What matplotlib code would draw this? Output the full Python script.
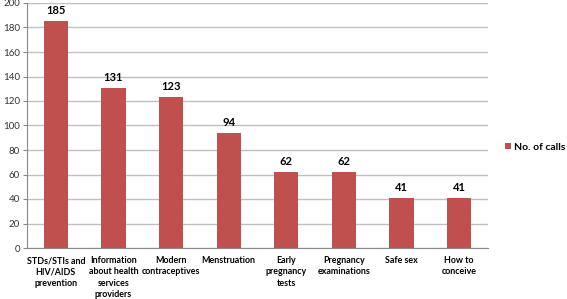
import numpy as np
import matplotlib.pyplot as plt

categories = ["STDs/STIs and\nHIV/AIDS\nprevention",
              "Information\nabout health\nservices\nproviders",
              "Modern\ncontraceptives",
              "Menstruation",
              "Early\npregnancy\ntests",
              "Pregnancy\nexaminations",
              "Safe sex",
              "How to\nconceive"]
calls = [185, 131, 123, 94, 62, 62, 41, 41]
series_name = "No. of calls"

plt.rcParams['font.family'] = ['Lato', 'DejaVu Sans']

fig = plt.figure(figsize=(5.67, 2.99), dpi=100)
ax = fig.add_axes([27 / 567, 1 - 248 / 299, 461 / 567, 245 / 299])

x = np.arange(len(categories))
bars = ax.bar(x, calls, width=0.42, color='#C0504D', zorder=3, label=series_name)

for xi, v in zip(x, calls):
    ax.text(xi, v + 4, str(v), ha='center', va='bottom', fontsize=8,
            fontweight='bold', color='black')

ax.set_xlim(-0.5, len(categories) - 0.5)
ax.set_ylim(0, 200)
ax.set_yticks(np.arange(0, 201, 20))
ax.yaxis.grid(True, color='#BFBFBF', linewidth=1, zorder=0)
ax.set_xticks(x)
ax.set_xticklabels(categories, fontsize=6.4, fontweight='bold', linespacing=1.3)
ax.tick_params(axis='x', length=0, pad=6)
ax.tick_params(axis='y', labelsize=7, length=3, color='#888888', labelcolor='#333333', pad=2)

for s in ['top', 'right']:
    ax.spines[s].set_visible(False)
ax.spines['left'].set_color('#888888')
ax.spines['bottom'].set_color('#888888')

fig.legend(handles=[bars], labels=[series_name], loc='center left',
           bbox_to_anchor=(505 / 567, 1 - 147 / 299), frameon=False,
           borderpad=0, borderaxespad=0,
           handlelength=0.6, handleheight=0.6, handletextpad=0.3,
           prop={'size': 7.5, 'weight': 'bold'})

fig.savefig('out.png', dpi=100)
